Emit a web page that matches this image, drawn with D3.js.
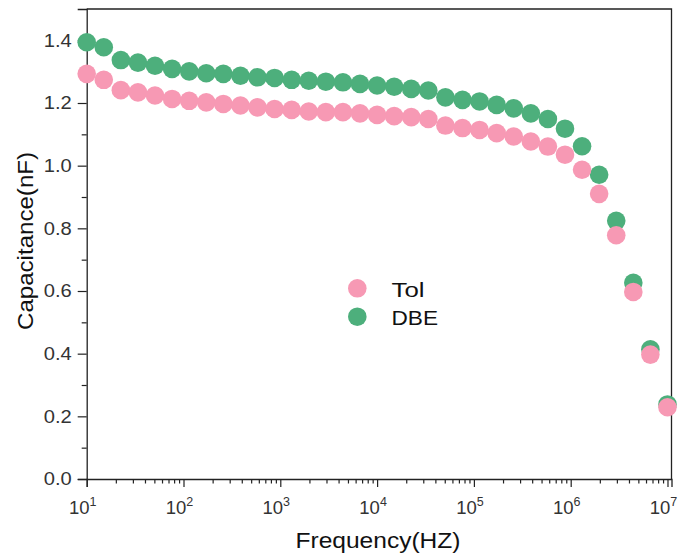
<!DOCTYPE html>
<html>
<head>
<meta charset="utf-8">
<script src="https://cdn.jsdelivr.net/npm/d3@7"></script>
<style>
  html, body { margin: 0; padding: 0; background: #fff; }
  svg { display: block; font-family: "Liberation Sans", Arial, sans-serif; }
</style>
</head>
<body>
<svg id="chart" width="683" height="559"></svg>
<script>
// ---- data ----
const frequency = [10, 15.01, 22.54, 33.83, 50.79, 76.24, 114.5, 171.9, 258.0, 387.4,
  581.6, 873.1, 1311, 1968, 2955, 4437, 6661, 10000, 15013, 22539,
  33836, 50797, 76259, 114485, 171871, 258022, 387359, 581526, 873019, 1310630,
  1967600, 2953900, 4434600, 6657500, 10000000];
const dbe = [1.394, 1.378, 1.337, 1.329, 1.319, 1.309, 1.301, 1.295, 1.293, 1.287,
  1.282, 1.280, 1.274, 1.271, 1.268, 1.266, 1.261, 1.256, 1.252, 1.245,
  1.240, 1.218, 1.210, 1.205, 1.194, 1.183, 1.167, 1.149, 1.118, 1.062,
  0.971, 0.824, 0.626, 0.414, 0.238];
const tol = [1.293, 1.274, 1.241, 1.234, 1.224, 1.213, 1.207, 1.202, 1.197, 1.192,
  1.186, 1.181, 1.178, 1.173, 1.171, 1.171, 1.167, 1.162, 1.158, 1.155,
  1.149, 1.128, 1.120, 1.114, 1.104, 1.093, 1.077, 1.061, 1.035, 0.987,
  0.910, 0.778, 0.597, 0.397, 0.229];
const seriesNames = ["Tol", "DBE"];
const xTickExponents = [1, 2, 3, 4, 5, 6, 7];
const yTicks = [0.0, 0.2, 0.4, 0.6, 0.8, 1.0, 1.2, 1.4];
const yMinorTicks = [0.1, 0.3, 0.5, 0.7, 0.9, 1.1, 1.3];
const xTitle = "Frequency(HZ)";
const yTitle = "Capacitance(nF)";

// ---- layout ----
const colors = { Tol: "#f799b4", DBE: "#4daf7c" };
const margin = { left: 86.7, right: 683 - 671.5, top: 9, bottom: 559 - 479 };
const W = 683, H = 559;
const svg = d3.select("#chart");

const x = d3.scaleLog().domain([10, 1.1e7]).range([margin.left, W - margin.right]);
const y = d3.scaleLinear().domain([0, 1.5]).range([H - margin.bottom, margin.top]);

const axisColor = "#222";
const labelColor = "#333";

// frame (top & right)
svg.append("path")
  .attr("d", `M${x.range()[0]},${y(1.5)}H${x.range()[1]}V${y(0)}`)
  .attr("fill", "none").attr("stroke", axisColor).attr("stroke-width", 1.3);

// y axis
const yAxis = svg.append("g").attr("transform", `translate(${margin.left},0)`)
  .call(d3.axisLeft(y).tickValues(yTicks).tickFormat(d3.format(".1f")).tickSize(9).tickPadding(6));
svg.append("g").attr("transform", `translate(${margin.left},0)`)
  .call(d3.axisLeft(y).tickValues(yMinorTicks).tickFormat("").tickSize(5))
  .select(".domain").remove();

// x axis
const majorX = xTickExponents.map(e => Math.pow(10, e));
const minorX = [];
for (let e = 1; e < 7; e++) for (let m = 2; m <= 9; m++) minorX.push(m * Math.pow(10, e));
svg.append("g").attr("transform", `translate(0,${y(0)})`)
  .call(d3.axisBottom(x).tickValues(majorX).tickFormat("").tickSize(8));
svg.append("g").attr("transform", `translate(0,${y(0)})`)
  .call(d3.axisBottom(x).tickValues(minorX).tickFormat("").tickSize(4.5))
  .select(".domain").remove();

svg.selectAll(".domain").attr("stroke", axisColor).attr("stroke-width", 1.3);
svg.selectAll(".tick line").attr("stroke", axisColor).attr("stroke-width", 1.2);
yAxis.selectAll(".tick text").attr("font-size", 18.5).attr("fill", labelColor)
  .attr("font-family", "Liberation Sans, Arial, sans-serif")
  .attr("textLength", 28).attr("lengthAdjust", "spacingAndGlyphs");

// x tick labels with superscripts
const xl = svg.append("g");
xTickExponents.forEach(e => {
  const t = xl.append("text")
    .attr("x", x(Math.pow(10, e)) - 4)
    .attr("y", 513.5)
    .attr("text-anchor", "middle")
    .attr("font-size", 18.5).attr("fill", labelColor);
  t.append("tspan").text("10");
  t.append("tspan").attr("dy", -8).attr("font-size", 12.5).text(String(e));
});

// titles
svg.append("text").attr("x", 378).attr("y", 548).attr("text-anchor", "middle")
  .attr("font-size", 21.5).attr("fill", "#111")
  .attr("textLength", 165).attr("lengthAdjust", "spacingAndGlyphs").text(xTitle);
svg.append("text").attr("transform", `translate(33,${241}) rotate(-90)`)
  .attr("text-anchor", "middle").attr("font-size", 22.5).attr("fill", "#111")
  .attr("textLength", 178).attr("lengthAdjust", "spacingAndGlyphs").text(yTitle);

// points: DBE first, Tol on top
const r = 9.3;
const seriesData = { Tol: tol, DBE: dbe };
["DBE", "Tol"].forEach(name => {
  svg.append("g").selectAll("circle")
    .data(frequency.map((f, i) => [f, seriesData[name][i]]))
    .join("circle")
    .attr("cx", d => x(d[0]))
    .attr("cy", d => y(d[1]))
    .attr("r", r)
    .attr("fill", colors[name]);
});

// legend
const legendLen = { Tol: 33, DBE: 46.5 };
const lg = svg.append("g");
seriesNames.forEach((name, i) => {
  lg.append("circle").attr("cx", 357.3).attr("cy", 288.3 + i * 28.4).attr("r", r).attr("fill", colors[name]);
  lg.append("text").attr("x", 391.5).attr("y", 296.8 + i * 28.4)
    .attr("font-size", 21).attr("fill", "#111")
    .attr("textLength", legendLen[name]).attr("lengthAdjust", "spacingAndGlyphs").text(name);
});
</script>
</body>
</html>
